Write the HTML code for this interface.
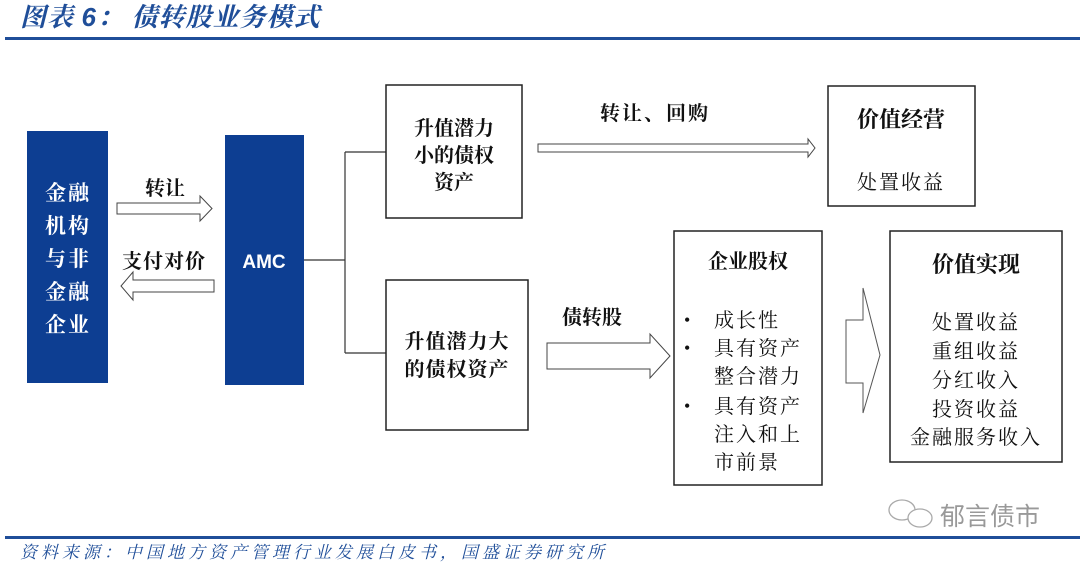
<!DOCTYPE html>
<html><head><meta charset="utf-8"><style>
html,body{margin:0;padding:0;background:#fff;}
svg{display:block;}
text{font-family:"Liberation Serif","Noto Serif CJK SC",serif;fill:#111;}
.t{font-size:20px;}
.b{font-weight:bold;}
</style></head><body>
<svg width="1080" height="563" viewBox="0 0 1080 563" xmlns="http://www.w3.org/2000/svg">
<text x="20" y="26" style="font-size:26px;font-style:italic;font-weight:bold;fill:#1f4e99;letter-spacing:1px">图表 <tspan style="font-family:'Liberation Sans',sans-serif;font-weight:bold;fill:#1f4e99">6</tspan>： 债转股业务模式</text>
<rect x="5" y="37" width="1075" height="3" fill="#1f4e99"/>

<rect x="27" y="131" width="81" height="252" fill="#0d3e92"/>
<g text-anchor="middle">
<text x="68" y="200" style="fill:#fff;font-size:21px;font-weight:bold;letter-spacing:2px">金融</text>
<text x="68" y="233" style="fill:#fff;font-size:21px;font-weight:bold;letter-spacing:2px">机构</text>
<text x="68" y="266" style="fill:#fff;font-size:21px;font-weight:bold;letter-spacing:2px">与非</text>
<text x="68" y="299" style="fill:#fff;font-size:21px;font-weight:bold;letter-spacing:2px">金融</text>
<text x="68" y="332" style="fill:#fff;font-size:21px;font-weight:bold;letter-spacing:2px">企业</text>
</g>
<rect x="225" y="135" width="79" height="250" fill="#0d3e92"/>
<text x="264" y="268" text-anchor="middle" style="fill:#fff;font-family:'Liberation Sans',sans-serif;font-weight:bold;font-size:19px">AMC</text>

<polygon points="117,203 200,203 200,196 212,208.5 200,221 200,214 117,214" fill="#fff" stroke="#444" stroke-width="1"/>
<text x="145" y="195" class="t b">转让</text>
<polygon points="214,280 133,280 133,272 121,286 133,300 133,292 214,292" fill="#fff" stroke="#444" stroke-width="1"/>
<text x="122" y="268" class="t b" style="letter-spacing:1px">支付对价</text>

<path d="M304 260 H345 M345 152 V353 M345 152 H386 M345 353 H386" stroke="#333" stroke-width="1.2" fill="none"/>

<rect x="386" y="85" width="136" height="133" fill="#fff" stroke="#222" stroke-width="1.5"/>
<g text-anchor="middle">
<text x="454" y="135" class="t b">升值潜力</text>
<text x="454" y="162" class="t b">小的债权</text>
<text x="454" y="189" class="t b">资产</text>
</g>
<rect x="386" y="280" width="142" height="150" fill="#fff" stroke="#222" stroke-width="1.5"/>
<text x="457" y="348" text-anchor="middle" class="t b" style="letter-spacing:1px">升值潜力大</text>
<text x="457" y="376" text-anchor="middle" class="t b" style="letter-spacing:1px">的债权资产</text>

<polygon points="538,144 808,144 808,139 815,148 808,157 808,152 538,152" fill="#fff" stroke="#444" stroke-width="1"/>
<text x="600" y="120" class="t b" style="letter-spacing:2px">转让、回购</text>

<rect x="828" y="86" width="147" height="120" fill="#fff" stroke="#222" stroke-width="1.5"/>
<text x="901" y="127" text-anchor="middle" style="font-size:22px" class="b">价值经营</text>
<text x="901" y="189" text-anchor="middle" class="t" style="letter-spacing:2px">处置收益</text>

<polygon points="547,343 650,343 650,334 670,356 650,378 650,369 547,369" fill="#fff" stroke="#444" stroke-width="1"/>
<text x="562" y="324" class="t b">债转股</text>

<rect x="674" y="231" width="148" height="254" fill="#fff" stroke="#222" stroke-width="1.5"/>
<text x="748" y="268" text-anchor="middle" class="t b">企业股权</text>
<g class="t">
<text x="684" y="326" style="font-size:18px">•</text>
<text x="714" y="327" style="letter-spacing:2px">成长性</text>
<text x="684" y="354" style="font-size:18px">•</text>
<text x="714" y="355" style="letter-spacing:2px">具有资产</text>
<text x="714" y="383" style="letter-spacing:2px">整合潜力</text>
<text x="684" y="412" style="font-size:18px">•</text>
<text x="714" y="413" style="letter-spacing:2px">具有资产</text>
<text x="714" y="441" style="letter-spacing:2px">注入和上</text>
<text x="714" y="469" style="letter-spacing:2px">市前景</text>
</g>

<polygon points="846,320 863,320 863,288 880,355 863,413 863,383 846,383" fill="#fff" stroke="#555" stroke-width="1"/>

<rect x="890" y="231" width="172" height="231" fill="#fff" stroke="#222" stroke-width="1.5"/>
<text x="976" y="272" text-anchor="middle" style="font-size:22px" class="b">价值实现</text>
<g text-anchor="middle" class="t" style="letter-spacing:2px">
<text x="976" y="329">处置收益</text>
<text x="976" y="358">重组收益</text>
<text x="976" y="387">分红收入</text>
<text x="976" y="416">投资收益</text>
<text x="976" y="444">金融服务收入</text>
</g>

<g fill="none" stroke="#aaa" stroke-width="1.3">
<ellipse cx="902" cy="510" rx="13" ry="10"/>
<ellipse cx="920" cy="518" rx="12" ry="9" fill="#fff"/>
</g>
<text x="940" y="525" style="font-family:'Liberation Sans','Noto Sans CJK SC',sans-serif;font-size:25px;fill:#999">郁言债市</text>

<rect x="5" y="536" width="1075" height="3" fill="#1f4e99"/>
<text x="20" y="558" style="font-size:17px;font-style:italic;fill:#1f4e99;letter-spacing:4px">资料来源：中国地方资产管理行业发展白皮书，国盛证券研究所</text>
</svg>
</body></html>
